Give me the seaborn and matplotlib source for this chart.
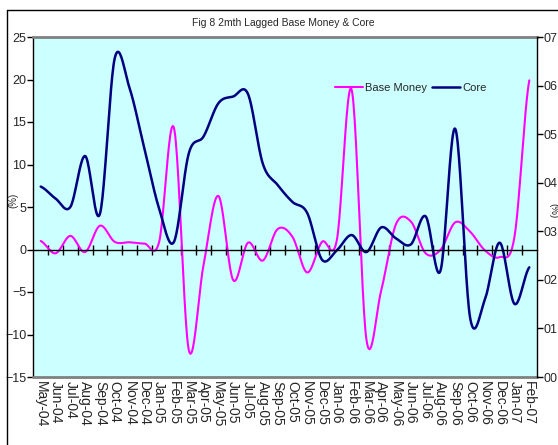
import numpy as np
import pandas as pd
import matplotlib
matplotlib.use('Agg')
import matplotlib.pyplot as plt
import seaborn as sns
from matplotlib.lines import Line2D
from matplotlib.ticker import FixedLocator

sns.set_style('white')
plt.rcParams['font.family'] = ['Liberation Sans', 'DejaVu Sans']

# data
months = ['May-04', 'Jun-04', 'Jul-04', 'Aug-04', 'Sep-04', 'Oct-04', 'Nov-04', 'Dec-04',
          'Jan-05', 'Feb-05', 'Mar-05', 'Apr-05', 'May-05', 'Jun-05', 'Jul-05', 'Aug-05',
          'Sep-05', 'Oct-05', 'Nov-05', 'Dec-05', 'Jan-06', 'Feb-06', 'Mar-06', 'Apr-06',
          'May-06', 'Jun-06', 'Jul-06', 'Aug-06', 'Sep-06', 'Oct-06', 'Nov-06', 'Dec-06',
          'Jan-07', 'Feb-07']
base_money = [1.0, -0.45, 1.6, -0.3, 2.8, 0.9, 0.85, 0.7, 0.9, 14.3, -11.8, -1.8, 6.3, -3.6,
              0.8, -1.3, 2.4, 1.5, -2.7, 0.9, 1.1, 18.8, -10.6, -4.8, 3.0, 3.3, -0.45, -0.05,
              3.2, 2.1, -0.1, -0.9, 1.5, 19.9]
core = [7.4, 6.0, 5.0, 11.0, 4.2, 22.5, 19.0, 11.9, 4.8, 0.9, 11.3, 13.3, 17.2, 18.0, 18.3,
        10.1, 7.6, 5.6, 4.3, -1.2, -0.1, 1.7, -0.3, 2.6, 1.3, 0.6, 3.9, -2.5, 14.2, -8.0,
        -5.9, 0.8, -6.4, -2.1]
right_ticks = [0.0, 0.1, 0.2, 0.3, 0.4, 0.5, 0.6, 0.7]
right_labels = ['00', '01', '02', '03', '04', '05', '06', '07']


def smooth(y, n=24):
    # Catmull-Rom style smoothing like Excel's "smoothed line"
    y = np.asarray(y, dtype=float)
    p = np.concatenate([[y[0]], y, [y[-1]]])
    xs, ys = [], []
    t = np.linspace(0, 1, n, endpoint=False)
    for i in range(len(y) - 1):
        p0, p1, p2, p3 = p[i], p[i + 1], p[i + 2], p[i + 3]
        c1 = p1 + (p2 - p0) / 6
        c2 = p2 - (p3 - p1) / 6
        seg = (1 - t) ** 3 * p1 + 3 * (1 - t) ** 2 * t * c1 + 3 * (1 - t) * t ** 2 * c2 + t ** 3 * p2
        xs.extend(i + t)
        ys.extend(seg)
    xs.append(len(y) - 1)
    ys.append(y[-1])
    return np.array(xs), np.array(ys)


bx, by = smooth(base_money)
cx, cy = smooth(core)
df_base = pd.DataFrame({'x': bx, 'y': by})
df_core = pd.DataFrame({'x': cx, 'y': cy})

fig = plt.figure(figsize=(5.58, 4.45), dpi=100)
ax = fig.add_axes([33.3 / 558, 1 - 377 / 445, 503.4 / 558, 340 / 445])
ax.set_facecolor('#CCFFFF')

sns.lineplot(data=df_base, x='x', y='y', ax=ax, color='#FF00FF', lw=1.5,
             sort=False, estimator=None, label='Base Money')
sns.lineplot(data=df_core, x='x', y='y', ax=ax, color='#000080', lw=1.8,
             sort=False, estimator=None, label='Core')

ax.set_xlim(-0.5, len(months) - 0.5)
ax.set_ylim(-15, 25)
ax.set_yticks(np.arange(-15, 26, 5))
ax.tick_params(axis='y', direction='out', length=4, width=1, color='black',
               labelsize=9, pad=1, left=True)

# category axis crosses at zero, labels sit below the plot area
ax.spines['bottom'].set_position(('data', 0))
ax.spines['bottom'].set_color('black')
ax.spines['bottom'].set_linewidth(1)
ax.set_xticks(range(len(months)))
ax.set_xticklabels(months, rotation=-90, fontsize=10, va='top')
ax.xaxis.set_minor_locator(FixedLocator(np.arange(0.5, len(months) - 1, 1)))
ax.tick_params(axis='x', which='major', length=0, pad=95)
ax.tick_params(axis='x', which='minor', direction='inout', length=7, width=1,
               color='black', bottom=True)
ax.set_xlabel('')

ax.spines['left'].set_color('black')
ax.spines['left'].set_linewidth(1)
ax.spines['top'].set_color('#808080')
ax.spines['top'].set_linewidth(2)
ax.spines['right'].set_visible(False)
ax.axhline(-15, color='#808080', lw=2, clip_on=False, zorder=5)

ax.set_ylabel('(%)', fontsize=7)
ax.yaxis.set_label_coords(-0.030, 0.52)

ax2 = ax.twinx()
ax2.set_ylim(0, 0.7)
ax2.set_yticks(right_ticks)
ax2.set_yticklabels(right_labels)
ax2.tick_params(axis='y', direction='out', length=4, width=1, color='black',
                labelsize=9, pad=1, right=True)
for s in ['left', 'top', 'bottom']:
    ax2.spines[s].set_visible(False)
ax2.spines['right'].set_color('black')
ax2.spines['right'].set_linewidth(1)
ax2.set_ylabel('(%)', fontsize=7, rotation=270, va='bottom')
ax2.yaxis.set_label_coords(1.024, 0.49)

ax.legend(loc='center', bbox_to_anchor=(0.75, 0.85), ncol=2, frameon=False,
          fontsize=8, handlelength=2.5, handletextpad=0.2, columnspacing=0.5)

fig.text(283 / 558, 1 - 23 / 445, 'Fig 8 2mth Lagged Base Money & Core',
         ha='center', va='center', fontsize=7.5)

# outer chart border (cropped at right and bottom)
fig.add_artist(Line2D([7 / 558, 7 / 558], [0, 1 - 10 / 445], color='black', lw=1))
fig.add_artist(Line2D([7 / 558, 1], [1 - 10 / 445, 1 - 10 / 445], color='black', lw=1))

fig.savefig('out.png', dpi=100)
